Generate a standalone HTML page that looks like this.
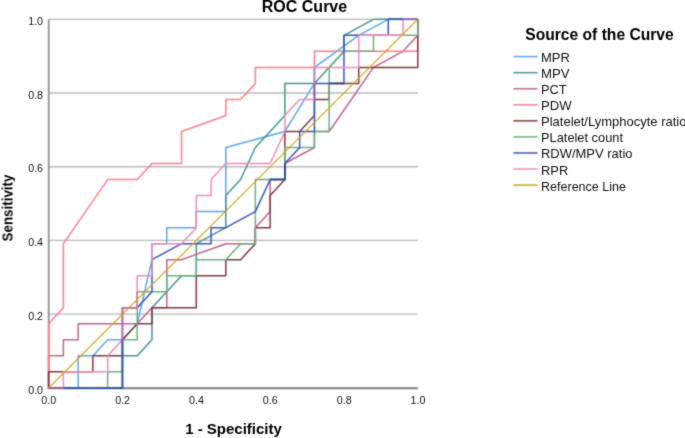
<!DOCTYPE html>
<html><head><meta charset="utf-8"><style>
html,body{margin:0;padding:0;background:#fff;}
body{width:685px;height:438px;overflow:hidden;position:relative;}
svg{position:absolute;left:0;top:0;will-change:transform;}
text{font-family:"Liberation Sans",sans-serif;fill:#222;}
.tk{font-size:11.5px;fill:#111;}
.lg{font-size:13.6px;fill:#111;}
.ttl{font-size:15.5px;font-weight:bold;fill:#000;}
.ax{font-size:15px;font-weight:bold;fill:#000;}
</style></head><body>
<svg width="685" height="438" viewBox="0 0 685 438">
<defs><filter id="bl" x="0" y="0" width="685" height="438" filterUnits="userSpaceOnUse" color-interpolation-filters="sRGB"><feConvolveMatrix order="3" kernelMatrix="1 2 1 2 12 2 1 2 1" divisor="24" edgeMode="duplicate"/></filter><filter id="bt" x="0" y="0" width="685" height="438" filterUnits="userSpaceOnUse" color-interpolation-filters="sRGB"><feConvolveMatrix order="3" kernelMatrix="1 2 1 2 20 2 1 2 1" divisor="32" edgeMode="duplicate"/></filter></defs>
<g filter="url(#bl)">
<rect width="685" height="438" fill="#fff"/>
<line x1="48.6" y1="314.18" x2="417.8" y2="314.18" stroke="#b9b9b9" stroke-width="1.3"/>
<line x1="48.6" y1="240.46" x2="417.8" y2="240.46" stroke="#b9b9b9" stroke-width="1.3"/>
<line x1="48.6" y1="166.74" x2="417.8" y2="166.74" stroke="#b9b9b9" stroke-width="1.3"/>
<line x1="48.6" y1="93.02" x2="417.8" y2="93.02" stroke="#b9b9b9" stroke-width="1.3"/>
<line x1="48.6" y1="19.3" x2="417.8" y2="19.3" stroke="#b9b9b9" stroke-width="1.3"/>
<line x1="48.7" y1="19.3" x2="48.7" y2="389.09999999999997" stroke="#909090" stroke-width="1.8"/>
<line x1="47.800000000000004" y1="388.25" x2="417.8" y2="388.25" stroke="#7c7c7c" stroke-width="2"/>
<polyline points="48.6,387.9 78.14,387.9 78.14,355.85 92.9,355.85 107.67,339.82 122.44,339.82 137.21,323.8 151.98,259.69 151.98,243.67 166.74,243.67 166.74,227.64 196.28,227.64 196.28,211.61 225.82,211.61 225.82,147.51 284.89,131.48 314.42,83.4 314.42,67.38 358.73,35.33 388.26,19.3 417.8,19.3" fill="none" stroke="#56a7ec" stroke-width="1.5" stroke-linejoin="round" stroke-opacity="1"/>
<polyline points="48.6,387.9 122.44,387.9 122.44,355.85 137.21,355.85 151.98,339.82 151.98,307.77 181.51,275.72 196.28,275.72 196.28,243.67 225.82,227.64 225.82,195.59 240.58,179.56 255.35,147.51 284.89,115.46 284.89,83.4 314.42,83.4 343.96,51.35 343.96,35.33 373.5,19.3 417.8,19.3" fill="none" stroke="#459292" stroke-width="1.5" stroke-linejoin="round" stroke-opacity="1"/>
<polyline points="48.6,387.9 48.6,355.85 63.37,355.85 63.37,339.82 78.14,339.82 78.14,323.8 137.21,323.8 151.98,307.77 166.74,307.77 166.74,259.69 181.51,259.69 225.82,243.67 255.35,243.67 255.35,227.64 270.12,211.61 270.12,179.56 284.89,179.56 284.89,163.53 314.42,147.51 314.42,131.48 329.19,131.48 373.5,67.38 403.03,51.35 417.8,35.33 417.8,19.3" fill="none" stroke="#c1638e" stroke-width="1.5" stroke-linejoin="round" stroke-opacity="1"/>
<polyline points="48.6,387.9 48.6,323.8 63.37,307.77 63.37,243.67 107.67,179.56 137.21,179.56 151.98,163.53 181.51,163.53 181.51,131.48 225.82,115.46 225.82,99.43 240.58,99.43 255.35,83.4 255.35,67.38 314.42,67.38 314.42,51.35 417.8,51.35 417.8,19.3" fill="none" stroke="#ff7c88" stroke-width="1.5" stroke-linejoin="round" stroke-opacity="1"/>
<polyline points="48.6,387.9 48.6,371.87 92.9,371.87 92.9,355.85 122.44,355.85 122.44,339.82 137.21,323.8 151.98,323.8 151.98,307.77 196.28,307.77 196.28,275.72 225.82,275.72 225.82,259.69 240.58,259.69 255.35,243.67 255.35,227.64 270.12,227.64 270.12,195.59 284.89,179.56 284.89,131.48 299.66,131.48 314.42,115.46 314.42,99.43 329.19,99.43 329.19,83.4 358.73,83.4 358.73,67.38 417.8,67.38 417.8,19.3" fill="none" stroke="#82373d" stroke-width="1.5" stroke-linejoin="round" stroke-opacity="1"/>
<polyline points="48.6,387.9 107.67,387.9 107.67,371.87 122.44,371.87 122.44,339.82 137.21,339.82 137.21,291.74 166.74,291.74 166.74,275.72 196.28,275.72 196.28,259.69 225.82,259.69 240.58,243.67 255.35,243.67 255.35,179.56 284.89,179.56 284.89,147.51 314.42,147.51 314.42,131.48 329.19,131.48 329.19,67.38 343.96,51.35 373.5,51.35 373.5,35.33 417.8,35.33 417.8,19.3" fill="none" stroke="#63b47c" stroke-width="1.5" stroke-linejoin="round" stroke-opacity="1"/>
<polyline points="48.6,387.9 122.44,387.9 122.44,307.77 137.21,307.77 151.98,291.74 151.98,259.69 181.51,243.67 211.05,243.67 211.05,227.64 225.82,227.64 255.35,211.61 270.12,179.56 284.89,179.56 284.89,163.53 299.66,147.51 299.66,131.48 314.42,131.48 314.42,83.4 343.96,83.4 343.96,35.33 388.26,35.33 388.26,19.3 417.8,19.3" fill="none" stroke="#3756c0" stroke-width="1.5" stroke-linejoin="round" stroke-opacity="1"/>
<polyline points="48.6,387.9 63.37,387.9 63.37,371.87 107.67,371.87 107.67,355.85 122.44,339.82 122.44,307.77 137.21,307.77 137.21,275.72 151.98,275.72 151.98,243.67 181.51,243.67 196.28,227.64 196.28,195.59 211.05,195.59 211.05,179.56 225.82,163.53 270.12,163.53 284.89,131.48 284.89,115.46 299.66,99.43 314.42,99.43 314.42,67.38 358.73,67.38 358.73,35.33 403.03,35.33 403.03,19.3 417.8,19.3" fill="none" stroke="#f288ba" stroke-width="1.5" stroke-linejoin="round" stroke-opacity="1"/>
<polyline points="48.6,387.9 63.37,387.9" fill="none" stroke="#8a4f93" stroke-width="1.5" stroke-linejoin="round"/>
<polyline points="63.37,387.9 122.44,387.9 122.44,339.82" fill="none" stroke="#2d5898" stroke-width="1.5" stroke-linejoin="round"/>
<polyline points="122.44,339.82 122.44,307.77 137.21,307.77" fill="none" stroke="#c066a6" stroke-width="1.5" stroke-linejoin="round"/>
<polyline points="314.42,99.43 314.42,83.4" fill="none" stroke="#8850a0" stroke-width="1.5" stroke-linejoin="round"/>
<polyline points="314.42,83.4 314.42,67.38" fill="none" stroke="#b47ec6" stroke-width="1.5" stroke-linejoin="round"/>
<polyline points="403.03,19.3 417.8,19.3" fill="none" stroke="#9a5a9a" stroke-width="1.5" stroke-linejoin="round"/>
<polyline points="196.28,227.64 196.28,211.61" fill="none" stroke="#e58cbc" stroke-width="1.5" stroke-linejoin="round"/>
<polyline points="358.73,35.33 403.03,35.33" fill="none" stroke="#f288ba" stroke-width="1.5" stroke-linejoin="round"/>
<polyline points="137.21,307.77 137.21,291.74" fill="none" stroke="#d47c9e" stroke-width="1.5" stroke-linejoin="round"/>
<polyline points="270.12,179.56 284.89,179.56 284.89,163.53" fill="none" stroke="#24468c" stroke-width="1.5" stroke-linejoin="round"/>
<polyline points="329.19,83.4 343.96,83.4" fill="none" stroke="#2c3f92" stroke-width="1.5" stroke-linejoin="round"/>
<polyline points="388.26,19.3 403.03,19.3" fill="none" stroke="#2c58a0" stroke-width="1.5" stroke-linejoin="round"/>
<line x1="48.6" y1="387.9" x2="417.8" y2="19.3" stroke="#cfa010" stroke-width="1.35" stroke-opacity="0.85"/>
<line x1="513.5" y1="56.6" x2="537.5" y2="56.6" stroke="#56a7ec" stroke-width="1.5" stroke-opacity="1"/>
<line x1="513.5" y1="72.66" x2="537.5" y2="72.66" stroke="#459292" stroke-width="1.5" stroke-opacity="1"/>
<line x1="513.5" y1="88.72" x2="537.5" y2="88.72" stroke="#c1638e" stroke-width="1.5" stroke-opacity="1"/>
<line x1="513.5" y1="104.78" x2="537.5" y2="104.78" stroke="#ff7c88" stroke-width="1.5" stroke-opacity="1"/>
<line x1="513.5" y1="120.84" x2="537.5" y2="120.84" stroke="#82373d" stroke-width="1.5" stroke-opacity="1"/>
<line x1="513.5" y1="136.9" x2="537.5" y2="136.9" stroke="#63b47c" stroke-width="1.5" stroke-opacity="1"/>
<line x1="513.5" y1="152.96" x2="537.5" y2="152.96" stroke="#3756c0" stroke-width="1.5" stroke-opacity="1"/>
<line x1="513.5" y1="169.02" x2="537.5" y2="169.02" stroke="#f288ba" stroke-width="1.5" stroke-opacity="1"/>
<line x1="513.5" y1="185.08" x2="537.5" y2="185.08" stroke="#cfa010" stroke-width="1.5" stroke-opacity="1"/>
</g>
<g filter="url(#bt)">
<text x="304.5" y="12.4" text-anchor="middle" class="ttl" style="font-size:16px">ROC Curve</text>
<text x="43.1" y="393.6" text-anchor="end" class="tk" textLength="14.9" lengthAdjust="spacingAndGlyphs">0.0</text>
<text x="41.35" y="404.2" class="tk" textLength="14.9" lengthAdjust="spacingAndGlyphs">0.0</text>
<text x="43.1" y="319.88" text-anchor="end" class="tk" textLength="14.9" lengthAdjust="spacingAndGlyphs">0.2</text>
<text x="115.19" y="404.2" class="tk" textLength="14.9" lengthAdjust="spacingAndGlyphs">0.2</text>
<text x="43.1" y="246.16" text-anchor="end" class="tk" textLength="14.9" lengthAdjust="spacingAndGlyphs">0.4</text>
<text x="189.03" y="404.2" class="tk" textLength="14.9" lengthAdjust="spacingAndGlyphs">0.4</text>
<text x="43.1" y="172.44" text-anchor="end" class="tk" textLength="14.9" lengthAdjust="spacingAndGlyphs">0.6</text>
<text x="262.87" y="404.2" class="tk" textLength="14.9" lengthAdjust="spacingAndGlyphs">0.6</text>
<text x="43.1" y="98.72" text-anchor="end" class="tk" textLength="14.9" lengthAdjust="spacingAndGlyphs">0.8</text>
<text x="336.71" y="404.2" class="tk" textLength="14.9" lengthAdjust="spacingAndGlyphs">0.8</text>
<text x="43.1" y="25" text-anchor="end" class="tk" textLength="14.9" lengthAdjust="spacingAndGlyphs">1.0</text>
<text x="410.55" y="404.2" class="tk" textLength="14.9" lengthAdjust="spacingAndGlyphs">1.0</text>
<text x="233.5" y="434" text-anchor="middle" class="ax">1 - Specificity</text>
<text transform="translate(12.5,208) rotate(-90)" text-anchor="middle" class="ax" textLength="67" lengthAdjust="spacingAndGlyphs">Sensitivity</text>
<text x="525.3" y="39.9" class="ttl" style="font-size:16.6px" textLength="148.4" lengthAdjust="spacingAndGlyphs">Source of the Curve</text>
<text x="541" y="62.1" class="lg" textLength="28.9" lengthAdjust="spacingAndGlyphs">MPR</text>
<text x="541" y="78.16" class="lg" textLength="28.6" lengthAdjust="spacingAndGlyphs">MPV</text>
<text x="541" y="94.22" class="lg" textLength="25.6" lengthAdjust="spacingAndGlyphs">PCT</text>
<text x="541" y="110.28" class="lg" textLength="30.6" lengthAdjust="spacingAndGlyphs">PDW</text>
<text x="541" y="126.34" class="lg" textLength="145.5" lengthAdjust="spacingAndGlyphs">Platelet/Lymphocyte ratio</text>
<text x="541" y="142.4" class="lg" textLength="82.0" lengthAdjust="spacingAndGlyphs">PLatelet count</text>
<text x="541" y="158.46" class="lg" textLength="91.5" lengthAdjust="spacingAndGlyphs">RDW/MPV ratio</text>
<text x="541" y="174.52" class="lg" textLength="27.2" lengthAdjust="spacingAndGlyphs">RPR</text>
<text x="541" y="190.58" class="lg" textLength="85.0" lengthAdjust="spacingAndGlyphs">Reference Line</text>
</g>
</svg>
</body></html>
